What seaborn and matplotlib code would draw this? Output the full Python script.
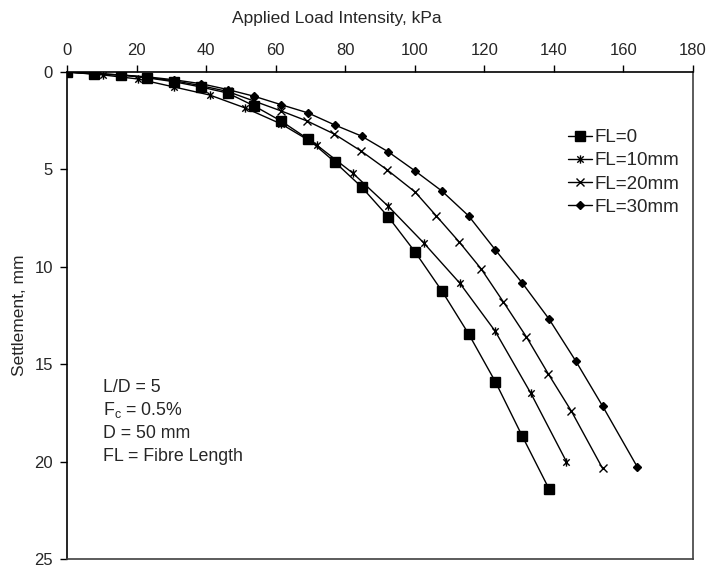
import matplotlib
matplotlib.use("Agg")
import matplotlib.pyplot as plt
from matplotlib.path import Path
import seaborn as sns

# --- DATA ---
load_fl0 = [0, 7.7, 15.4, 23.1, 30.8, 38.5, 46.2, 53.9, 61.6, 69.3, 77.0, 84.7,
            92.4, 100.1, 107.8, 115.5, 123.2, 130.9, 138.6]
settle_fl0 = [0, 0.1, 0.15, 0.3, 0.5, 0.77, 1.08, 1.75, 2.52, 3.44, 4.62, 5.9,
              7.44, 9.24, 11.24, 13.45, 15.91, 18.69, 21.4]

load_fl10 = [0, 10.3, 20.5, 30.8, 41.0, 51.3, 61.6, 71.8, 82.1, 92.3, 102.6,
             112.9, 123.1, 133.4, 143.6]
settle_fl10 = [0, 0.15, 0.36, 0.77, 1.18, 1.85, 2.67, 3.75, 5.18, 6.88, 8.78,
               10.83, 13.3, 16.5, 20.0]

load_fl20 = [0, 7.7, 15.4, 23.1, 30.8, 38.5, 46.2, 53.9, 61.6, 69.1, 76.8, 84.6,
             92.1, 100.1, 106.2, 112.8, 119.1, 125.5, 132.1, 138.4, 145.0, 154.0]
settle_fl20 = [0, 0.08, 0.15, 0.28, 0.45, 0.7, 1.0, 1.5, 2.0, 2.52, 3.18, 4.06,
               5.03, 6.16, 7.39, 8.73, 10.11, 11.81, 13.6, 15.5, 17.4, 20.35]

load_fl30 = [0, 7.7, 15.4, 23.1, 30.8, 38.5, 46.2, 53.9, 61.6, 69.3, 77.0, 84.7,
             92.4, 100.1, 107.8, 115.5, 123.2, 130.9, 138.6, 146.3, 154.0, 164.0]
settle_fl30 = [0, 0.08, 0.15, 0.25, 0.4, 0.6, 0.9, 1.25, 1.68, 2.1, 2.72, 3.29,
               4.1, 5.08, 6.11, 7.39, 9.14, 10.83, 12.68, 14.84, 17.15, 20.28]

labels = ["FL=0", "FL=10mm", "FL=20mm", "FL=30mm"]
notes = ["L/D = 5", "F$_\\mathregular{c}$ = 0.5%", "D = 50 mm", "FL = Fibre Length"]

# excel-like asterisk: an x plus a vertical bar
asterisk = Path([(-1, -1), (1, 1), (-1, 1), (1, -1), (0, -1.3), (0, 1.3)],
                [Path.MOVETO, Path.LINETO, Path.MOVETO, Path.LINETO,
                 Path.MOVETO, Path.LINETO])

sns.set_style("white")
plt.rcParams["font.family"] = ["Liberation Sans", "DejaVu Sans"]
plt.rcParams["mathtext.fontset"] = "custom"
plt.rcParams["mathtext.rm"] = "Liberation Sans"

fig = plt.figure(figsize=(7.1, 5.68), dpi=100)
ax = fig.add_axes([67 / 710, 1 - 559 / 568, 626 / 710, 487 / 568])

series = [
    (load_fl0, settle_fl0, "s", 6.5, "black"),
    (load_fl10, settle_fl10, asterisk, 6, "none"),
    (load_fl20, settle_fl20, "x", 6, "none"),
    (load_fl30, settle_fl30, "D", 4.5, "black"),
]
for (x, y, m, ms, fc), lab in zip(series, labels):
    sns.lineplot(x=x, y=y, ax=ax, color="black", lw=1, marker=m,
                 markersize=ms, markerfacecolor=fc, markeredgecolor="black",
                 markeredgewidth=1, label=lab, sort=False)

ax.set_xlim(0, 180)
ax.set_ylim(25, 0)
ax.set_xticks(range(0, 181, 20))
ax.set_yticks(range(0, 26, 5))
ax.xaxis.tick_top()
ax.xaxis.set_label_position("top")
ax.set_xlabel("Applied Load Intensity, kPa", fontsize=12.5)
ax.xaxis.set_label_coords(0.431, 1.1)
ax.set_ylabel("Settlement, mm", fontsize=12.5, labelpad=5.5)
ax.tick_params(axis="both", direction="out", length=5, width=1, labelsize=12,
               color="black", pad=5)
ax.tick_params(axis="x", top=True, bottom=False)
ax.tick_params(axis="y", left=True)

for side in ["top", "left"]:
    ax.spines[side].set_color("black")
for side in ["bottom", "right"]:
    ax.spines[side].set_color("#404040")
for sp in ax.spines.values():
    sp.set_linewidth(1.2)

leg = ax.legend(loc="upper left", bbox_to_anchor=(0.80, 0.883), frameon=False,
                fontsize=13.5, handlelength=1.3, handletextpad=0.1,
                labelspacing=0.33, borderpad=0, borderaxespad=0)

for i, t in enumerate(notes):
    ax.text(0.057, 0.353 - i * 0.0472, t, transform=ax.transAxes,
            fontsize=12.8, va="center", ha="left")

plt.savefig("out.png", dpi=100)
